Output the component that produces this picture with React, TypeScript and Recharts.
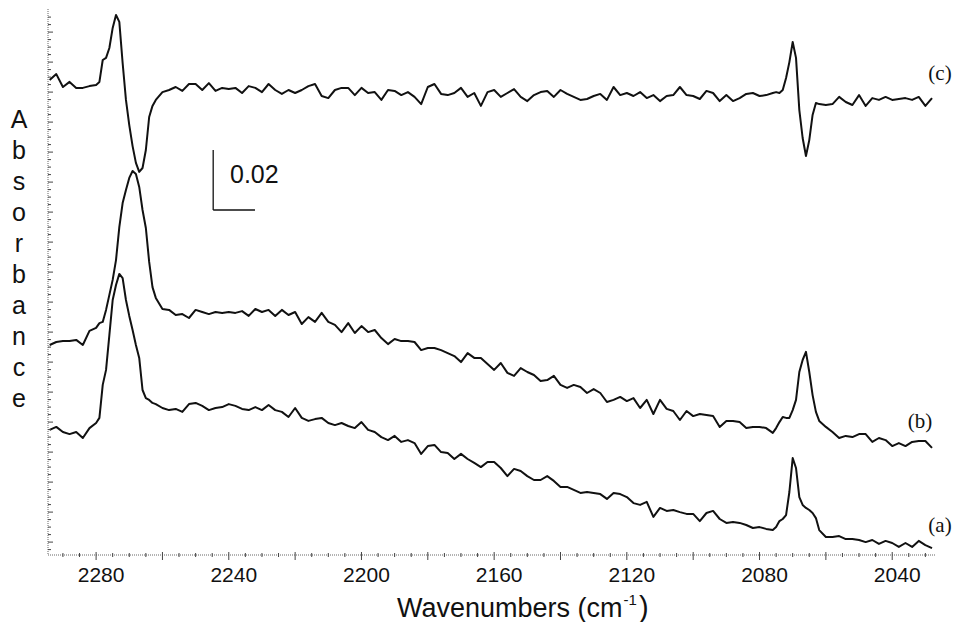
import { LineChart, Line, XAxis, YAxis, ReferenceLine } from 'recharts';

// wavenumber grid (cm-1), finer around the sharp bands
const wavenumbers = [
  2294, 2292, 2290, 2288, 2286, 2284, 2282, 2280,
  2279, 2278, 2277, 2276, 2275, 2274, 2273, 2272, 2271,
  2270, 2269, 2268, 2267, 2266, 2265, 2264, 2263, 2262,
  2260, 2258, 2256, 2254, 2252, 2250, 2248, 2246, 2244, 2242,
  2240, 2238, 2236, 2234, 2232, 2230, 2228, 2226, 2224, 2222,
  2220, 2218, 2216, 2214, 2212, 2210, 2208, 2206, 2204, 2202,
  2200, 2198, 2196, 2194, 2192, 2190, 2188, 2186, 2184, 2182,
  2180, 2178, 2176, 2174, 2172, 2170, 2168, 2166, 2164, 2162,
  2160, 2158, 2156, 2154, 2152, 2150, 2148, 2146, 2144, 2142,
  2140, 2138, 2136, 2134, 2132, 2130, 2128, 2126, 2124, 2122,
  2120, 2118, 2116, 2114, 2112, 2110, 2108, 2106, 2104, 2102,
  2100, 2098, 2096, 2094, 2092, 2090, 2088, 2086, 2084, 2082,
  2080, 2078,
  2076, 2075, 2074, 2073, 2072, 2071, 2070, 2069,
  2068, 2067, 2066, 2065, 2064, 2063, 2062,
  2060, 2058, 2056, 2054, 2052, 2050, 2048, 2046, 2044, 2042,
  2040, 2038, 2036, 2034, 2032, 2030, 2028,
];

// spectrum (a)
const traceA = [
  0.0417, 0.0427, 0.0410, 0.0403, 0.0410, 0.0390, 0.0423, 0.0440,
  0.0457, 0.0567, 0.0617, 0.0733, 0.0850, 0.0900, 0.0937, 0.0923, 0.0850,
  0.0797, 0.0750, 0.0700, 0.0657, 0.0550, 0.0523, 0.0517, 0.0507, 0.0503,
  0.0490, 0.0483, 0.0487, 0.0477, 0.0503, 0.0507, 0.0497, 0.0483, 0.0490, 0.0493,
  0.0503, 0.0497, 0.0487, 0.0483, 0.0493, 0.0483, 0.0500, 0.0483, 0.0477, 0.0460,
  0.0490, 0.0457, 0.0447, 0.0453, 0.0457, 0.0440, 0.0433, 0.0440, 0.0430, 0.0423,
  0.0443, 0.0417, 0.0410, 0.0393, 0.0383, 0.0397, 0.0377, 0.0383, 0.0373, 0.0337,
  0.0363, 0.0367, 0.0343, 0.0340, 0.0320, 0.0337, 0.0320, 0.0307, 0.0293, 0.0310,
  0.0310, 0.0290, 0.0263, 0.0287, 0.0280, 0.0263, 0.0250, 0.0250, 0.0263, 0.0247,
  0.0227, 0.0227, 0.0217, 0.0207, 0.0210, 0.0207, 0.0203, 0.0187, 0.0207, 0.0203,
  0.0193, 0.0173, 0.0167, 0.0177, 0.0127, 0.0157, 0.0147, 0.0150, 0.0143, 0.0137,
  0.0137, 0.0113, 0.0140, 0.0147, 0.0120, 0.0107, 0.0110, 0.0107, 0.0100, 0.0090,
  0.0093, 0.0087,
  0.0083, 0.0093, 0.0113, 0.0120, 0.0133, 0.0210, 0.0323, 0.0290,
  0.0193, 0.0167, 0.0157, 0.0150, 0.0140, 0.0123, 0.0083,
  0.0060, 0.0060, 0.0063, 0.0053, 0.0053, 0.0050, 0.0043, 0.0050, 0.0037, 0.0047,
  0.0040, 0.0027, 0.0040, 0.0027, 0.0047, 0.0033, 0.0023,
];

// spectrum (b)
const traceB = [
  0.0700, 0.0710, 0.0713, 0.0713, 0.0717, 0.0700, 0.0747, 0.0757,
  0.0773, 0.0777, 0.0817, 0.0867, 0.0917, 0.0983, 0.1093, 0.1173, 0.1217,
  0.1257, 0.1280, 0.1270, 0.1227, 0.1150, 0.1090, 0.0977, 0.0893, 0.0857,
  0.0820, 0.0817, 0.0800, 0.0803, 0.0790, 0.0817, 0.0810, 0.0803, 0.0810, 0.0807,
  0.0810, 0.0807, 0.0813, 0.0797, 0.0820, 0.0810, 0.0817, 0.0797, 0.0817, 0.0800,
  0.0810, 0.0770, 0.0793, 0.0777, 0.0807, 0.0777, 0.0767, 0.0743, 0.0773, 0.0740,
  0.0763, 0.0743, 0.0750, 0.0723, 0.0703, 0.0720, 0.0713, 0.0713, 0.0710, 0.0683,
  0.0690, 0.0690, 0.0683, 0.0673, 0.0663, 0.0643, 0.0673, 0.0657, 0.0657, 0.0637,
  0.0617, 0.0640, 0.0607, 0.0597, 0.0623, 0.0610, 0.0600, 0.0580, 0.0583, 0.0597,
  0.0567, 0.0557, 0.0567, 0.0560, 0.0540, 0.0553, 0.0540, 0.0510, 0.0517, 0.0527,
  0.0513, 0.0523, 0.0490, 0.0517, 0.0470, 0.0517, 0.0487, 0.0480, 0.0450, 0.0480,
  0.0463, 0.0470, 0.0467, 0.0463, 0.0427, 0.0447, 0.0447, 0.0443, 0.0423, 0.0427,
  0.0427, 0.0423,
  0.0407, 0.0423, 0.0443, 0.0460, 0.0457, 0.0457, 0.0483, 0.0517,
  0.0610, 0.0650, 0.0677, 0.0610, 0.0533, 0.0477, 0.0447,
  0.0427, 0.0410, 0.0390, 0.0397, 0.0393, 0.0403, 0.0403, 0.0377, 0.0390, 0.0383,
  0.0363, 0.0373, 0.0363, 0.0377, 0.0380, 0.0380, 0.0357,
];

// spectrum (c), difference
const traceC = [
  0.1583, 0.1603, 0.1560, 0.1577, 0.1557, 0.1557, 0.1563, 0.1567,
  0.1577, 0.1650, 0.1657, 0.1690, 0.1757, 0.1800, 0.1777, 0.1640, 0.1517,
  0.1433, 0.1363, 0.1307, 0.1277, 0.1290, 0.1350, 0.1460, 0.1497, 0.1517,
  0.1543, 0.1550, 0.1560, 0.1547, 0.1570, 0.1570, 0.1550, 0.1573, 0.1547, 0.1557,
  0.1553, 0.1557, 0.1540, 0.1563, 0.1557, 0.1543, 0.1570, 0.1550, 0.1537, 0.1550,
  0.1540, 0.1550, 0.1563, 0.1570, 0.1530, 0.1523, 0.1550, 0.1557, 0.1557, 0.1533,
  0.1557, 0.1540, 0.1543, 0.1517, 0.1550, 0.1547, 0.1533, 0.1543, 0.1527, 0.1503,
  0.1560, 0.1570, 0.1537, 0.1533, 0.1540, 0.1557, 0.1527, 0.1540, 0.1497, 0.1543,
  0.1550, 0.1527, 0.1540, 0.1553, 0.1527, 0.1513, 0.1533, 0.1543, 0.1547, 0.1527,
  0.1550, 0.1537, 0.1527, 0.1517, 0.1520, 0.1530, 0.1537, 0.1517, 0.1560, 0.1533,
  0.1540, 0.1530, 0.1543, 0.1523, 0.1533, 0.1513, 0.1530, 0.1533, 0.1560, 0.1533,
  0.1530, 0.1520, 0.1547, 0.1540, 0.1513, 0.1533, 0.1513, 0.1523, 0.1537, 0.1540,
  0.1530, 0.1533,
  0.1540, 0.1543, 0.1540, 0.1550, 0.1590, 0.1643, 0.1710, 0.1657,
  0.1483, 0.1390, 0.1330, 0.1383, 0.1467, 0.1507, 0.1503,
  0.1500, 0.1503, 0.1527, 0.1510, 0.1500, 0.1533, 0.1497, 0.1523, 0.1517, 0.1527,
  0.1517, 0.1520, 0.1523, 0.1517, 0.1527, 0.1497, 0.1523,
];

const xLabels = [2280, 2240, 2200, 2160, 2120, 2080, 2040];
const xDomain = [2027.1, 2294.5];
const yDomain = [0, 0.182];

// scale bar: 0.02 absorbance units
const scaleBarSize = 0.02;
const scaleBarBase = 0.115;
const scaleBarX = 2244.7;
const scaleBarXEnd = 2232.1;

const yAxisLetters = 'Absorbance'.split('');

const data = wavenumbers.map((wn, i) => ({ wn, a: traceA[i], b: traceB[i], c: traceC[i] }));

// minor ticks every 5 cm-1, major every 20
const xTicks: number[] = [];
for (let v = 2290; v >= 2030; v -= 5) xTicks.push(v);

const yTicks: number[] = [];
for (let i = 0; i < 72; i++) {
  const v = +(0.0018 + i * 0.0025).toFixed(4);
  if (v <= 0.182) yTicks.push(v);
}

const SANS = '"Liberation Sans", Arial, Helvetica, sans-serif';
const SERIF = '"Liberation Serif", "Times New Roman", serif';
const INK = '#111';

const XTick = (props: any) => {
  const { x, y, payload } = props;
  const v = payload.value;
  const major = v % 20 === 0;
  return (
    <g>
      <line x1={x} x2={x} y1={y - (major ? 3 : 2)} y2={y + (major ? 5 : 2)} stroke="#444" strokeWidth={1} />
      {xLabels.includes(v) && (
        <text x={x + 5} y={y + 27} textAnchor="middle" fontSize={21} fontFamily={SANS} fill={INK}>
          {v}
        </text>
      )}
    </g>
  );
};

const YTick = (props: any) => {
  const { x, y, index } = props;
  const major = index % 4 === 1;
  return <line x1={x} x2={x + (major ? 5 : 3)} y1={y} y2={y} stroke="#444" strokeWidth={1} />;
};

const lineProps = {
  type: 'linear' as const,
  stroke: INK,
  strokeWidth: 2,
  strokeLinejoin: 'round' as const,
  dot: false,
  isAnimationActive: false,
};

export default function App() {
  return (
    <div style={{ position: 'absolute', left: 0, top: 0, width: 955, height: 622, background: '#fff' }}>
      <LineChart width={955} height={622} data={data} margin={{ top: 9, right: 20, bottom: 0, left: 0 }}>
        <XAxis
          dataKey="wn"
          type="number"
          domain={xDomain}
          reversed
          allowDataOverflow
          ticks={xTicks}
          interval={0}
          tickLine={false}
          tickSize={0}
          tickMargin={0}
          tick={XTick}
          height={67}
          axisLine={{ stroke: '#666', strokeDasharray: '1 1' }}
        />
        <YAxis
          type="number"
          domain={yDomain}
          allowDataOverflow
          ticks={yTicks}
          interval={0}
          width={48}
          tickLine={false}
          tickSize={0}
          tickMargin={0}
          tick={YTick}
          axisLine={{ stroke: '#666', strokeDasharray: '1 1' }}
        />
        <ReferenceLine
          segment={[{ x: scaleBarX, y: scaleBarBase + scaleBarSize }, { x: scaleBarX, y: scaleBarBase }]}
          stroke={INK}
          strokeWidth={1.3}
          ifOverflow="visible"
        />
        <ReferenceLine
          segment={[{ x: scaleBarX, y: scaleBarBase }, { x: scaleBarXEnd, y: scaleBarBase }]}
          stroke={INK}
          strokeWidth={1.3}
          ifOverflow="visible"
        />
        <Line dataKey="a" {...lineProps} />
        <Line dataKey="b" {...lineProps} />
        <Line dataKey="c" {...lineProps} />
      </LineChart>

      {/* annotations */}
      <svg width={955} height={622} style={{ position: 'absolute', left: 0, top: 0, pointerEvents: 'none' }}>
        {yAxisLetters.map((ch, i) => (
          <text key={i} x={19} y={128 + i * 31} textAnchor="middle" fontSize={25} fontFamily={SANS} fill={INK}>
            {ch}
          </text>
        ))}
        <text x={230} y={183} fontSize={25} fontFamily={SANS} fill={INK}>0.02</text>
        <text x={940} y={80} textAnchor="middle" fontSize={21} fontFamily={SERIF} fill={INK}>(c)</text>
        <text x={920} y={428} textAnchor="middle" fontSize={21} fontFamily={SERIF} fill={INK}>(b)</text>
        <text x={940} y={532} textAnchor="middle" fontSize={21} fontFamily={SERIF} fill={INK}>(a)</text>
        <text x={397} y={617} fontSize={27} fontFamily={SANS} fill={INK}>
          Wavenumbers (cm
          <tspan dx={1} dy={-12} fontSize={15}>-1</tspan>
          <tspan dx={2} dy={12} fontSize={29}>)</tspan>
        </text>
      </svg>
    </div>
  );
}
